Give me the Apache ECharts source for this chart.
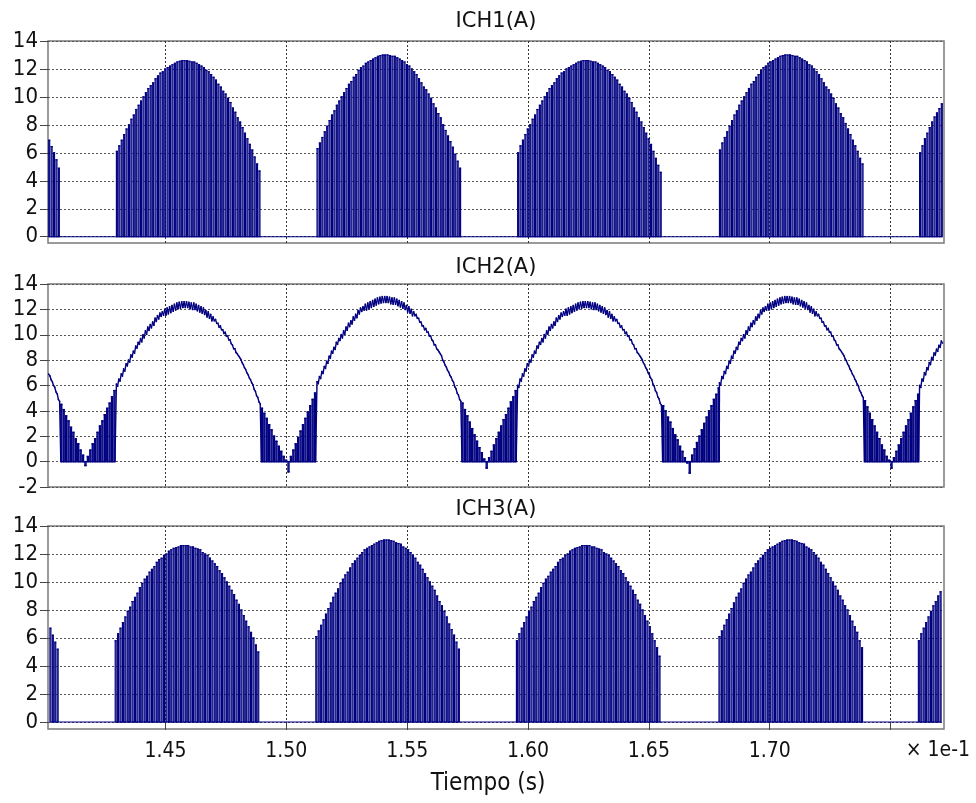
<!DOCTYPE html>
<html>
<head>
<meta charset="utf-8">
<script src="https://cdn.jsdelivr.net/npm/echarts@6/dist/echarts.min.js"></script>
<style>
html,body{margin:0;padding:0;background:#fff;}
#chart{width:976px;height:803px;}
</style>
</head>
<body>
<div id="chart"></div>
<script>
// ---- axis ticks (time in units of 1e-1 s) ----
const xTicks = [1.45, 1.50, 1.55, 1.60, 1.65, 1.70, 1.75];
const xTickLabels = [1.45, 1.50, 1.55, 1.60, 1.65, 1.70];
const yTicks = [0, 2, 4, 6, 8, 10, 12, 14];
const panelTitles = ['ICH1(A)', 'ICH2(A)', 'ICH3(A)'];

// ---- switching pattern ----
const PULSE_PERIOD = 0.001;   // 10 kHz switching (x1e-1 s)
const PULSE_ON = 0.0004;      // on-time of each pulse

// ---- ICH1: pulse heights per conduction interval ----
const ich1Starts = [1.4017, 1.4297, 1.5127, 1.5957, 1.6792, 1.7620];
const ich1Hump0 = [6.9, 6.45, 6.0, 5.5, 4.9];
const ich1Hump1 = [6.1,6.5,6.9,7.3,7.7,8.0,8.4,8.7,9.1,9.4,9.7,10.0,10.3,10.6,10.8,11.0,11.3,11.5,11.7,11.8,12.0,12.1,12.2,12.3,12.4,12.5,12.55,12.6,12.6,12.6,12.55,12.5,12.5,12.4,12.3,12.2,12.1,11.9,11.8,11.6,11.4,11.2,10.9,10.7,10.4,10.2,9.9,9.6,9.2,8.9,8.5,8.2,7.8,7.4,7.0,6.6,6.2,5.7,5.2,4.7];
const ich1Hump2 = [6.3,6.7,7.1,7.5,7.9,8.3,8.7,9.0,9.4,9.7,10.0,10.3,10.6,10.9,11.1,11.4,11.6,11.9,12.1,12.2,12.4,12.5,12.6,12.7,12.8,12.9,12.95,13.0,13.0,13.0,12.95,12.9,12.9,12.8,12.7,12.6,12.5,12.3,12.2,12.0,11.8,11.6,11.3,11.0,10.7,10.5,10.2,9.9,9.5,9.2,8.8,8.5,8.0,7.6,7.2,6.8,6.4,5.9,5.4,4.9];
const ich1Hump3 = [6.0,6.5,6.9,7.3,7.7,8.0,8.4,8.7,9.1,9.4,9.7,10.0,10.3,10.6,10.8,11.0,11.3,11.5,11.7,11.8,12.0,12.1,12.2,12.3,12.4,12.5,12.55,12.6,12.6,12.6,12.55,12.5,12.5,12.4,12.3,12.2,12.1,11.9,11.8,11.6,11.4,11.2,10.9,10.7,10.4,10.2,9.9,9.6,9.2,8.9,8.5,8.2,7.8,7.4,7.0,6.6,6.1,5.6,5.1,4.6];
const ich1Hump4 = [6.2,6.7,7.1,7.5,7.9,8.3,8.7,9.0,9.4,9.7,10.0,10.3,10.6,10.9,11.1,11.4,11.6,11.9,12.1,12.2,12.4,12.5,12.6,12.7,12.8,12.9,12.95,13.0,13.0,13.0,12.95,12.9,12.9,12.8,12.7,12.6,12.5,12.3,12.2,12.0,11.8,11.6,11.3,11.0,10.7,10.5,10.2,9.9,9.5,9.2,8.8,8.5,8.1,7.7,7.3,6.9,6.5,6.1,5.6,5.2];
const ich1Hump5 = [6.0, 6.5, 7.0, 7.4, 7.8, 8.2, 8.56, 8.85, 9.16, 9.5];

// ---- ICH2: valley pulse heights between conduction humps ----
const ich2ValleyStarts = [1.4067, 1.4897, 1.5727, 1.6557, 1.7392];
const ich2Valley1 = [4.5,4.1,3.6,3.2,2.7,2.3,1.8,1.4,0.9,0.5,-0.3,0.4,0.9,1.4,1.8,2.3,2.8,3.2,3.7,4.2,4.6,5.1,5.6];
const ich2Valley2 = [4.2,3.8,3.4,2.9,2.5,2.0,1.6,1.2,0.8,0.4,0.1,-0.8,0.4,0.9,1.4,1.9,2.4,2.9,3.4,3.9,4.4,4.9,5.4];
const ich2Valley3 = [4.6,4.1,3.6,3.1,2.6,2.1,1.6,1.1,0.7,0.2,-0.5,0.3,0.8,1.3,1.8,2.3,2.8,3.3,3.7,4.2,4.7,5.1,5.6];
const ich2Valley4 = [4.4,4.0,3.5,3.1,2.6,2.1,1.7,1.2,0.8,0.3,-0.1,-0.9,0.5,1.0,1.5,2.0,2.5,3.0,3.5,4.0,4.4,4.9,5.3,5.8];
const ich2Valley5 = [4.8,4.3,3.8,3.3,2.8,2.3,1.8,1.3,0.9,0.4,0.1,-0.5,0.3,0.8,1.3,1.8,2.3,2.8,3.3,3.8,4.3,4.8,5.3];
const ich2Ripple = [0.15, 0.25, 0.45, 0.5, 0.3, 0.15];  // ripple depth per group of 10 pulses

// ---- ICH3: pulse heights per conduction interval ----
const ich3Starts = [1.4022, 1.4292, 1.5122, 1.5952, 1.6790, 1.7615];
const ich3Hump0 = [6.7, 6.2, 5.7, 5.2];
const ich3Hump1 = [5.8,6.3,6.7,7.1,7.5,7.9,8.2,8.6,8.9,9.2,9.6,9.9,10.2,10.4,10.7,10.9,11.1,11.4,11.6,11.7,11.9,12.0,12.2,12.3,12.4,12.45,12.5,12.6,12.6,12.6,12.6,12.5,12.5,12.4,12.35,12.3,12.1,12.0,11.9,11.7,11.5,11.3,11.1,10.8,10.6,10.3,10.0,9.7,9.4,9.1,8.7,8.4,8.0,7.6,7.2,6.8,6.4,6.0,5.5,5.0];
const ich3Hump2 = [6.1,6.5,6.9,7.3,7.7,8.1,8.5,8.9,9.2,9.5,9.9,10.2,10.5,10.7,11.0,11.3,11.5,11.7,11.9,12.1,12.3,12.4,12.5,12.6,12.7,12.8,12.9,12.95,13.0,13.0,13.0,12.95,12.9,12.8,12.75,12.7,12.5,12.4,12.3,12.1,11.9,11.7,11.4,11.2,10.9,10.6,10.3,10.0,9.7,9.4,9.0,8.6,8.3,7.9,7.5,7.0,6.6,6.2,5.7,5.2];
const ich3Hump3 = [5.8,6.3,6.7,7.1,7.5,7.9,8.2,8.6,8.9,9.2,9.6,9.9,10.2,10.4,10.7,10.9,11.1,11.4,11.6,11.7,11.9,12.0,12.2,12.3,12.4,12.45,12.5,12.6,12.6,12.6,12.6,12.5,12.5,12.4,12.35,12.3,12.1,12.0,11.9,11.7,11.5,11.3,11.1,10.8,10.6,10.3,10.0,9.7,9.4,9.1,8.7,8.4,8.0,7.6,7.2,6.8,6.3,5.8,5.3,4.7];
const ich3Hump4 = [6.1,6.5,6.9,7.3,7.7,8.1,8.5,8.9,9.2,9.5,9.9,10.2,10.5,10.7,11.0,11.3,11.5,11.7,11.9,12.1,12.3,12.4,12.5,12.6,12.7,12.8,12.9,12.95,13.0,13.0,13.0,12.95,12.9,12.8,12.75,12.7,12.5,12.4,12.3,12.1,11.9,11.7,11.4,11.2,10.9,10.6,10.3,10.0,9.7,9.4,9.0,8.7,8.3,8.0,7.6,7.2,6.8,6.4,5.8,5.3];
const ich3Hump5 = [5.8, 6.3, 6.7, 7.1, 7.5, 7.9, 8.3, 8.6, 9.0, 9.3];

// ---- builders ----
function pulseTrain(start, heights) {
  const pts = [];
  heights.forEach((h, i) => {
    const t = start + i * PULSE_PERIOD;
    pts.push([t, 0], [t, h], [t + PULSE_ON, h], [t + PULSE_ON, 0]);
  });
  return pts;
}
function rippleTrace(start, heights) {
  const pts = [];
  heights.forEach((h, i) => {
    const t = start + i * PULSE_PERIOD;
    const r = ich2Ripple[Math.min(ich2Ripple.length - 1, Math.floor(i / 10))];
    pts.push([t, h], [t + PULSE_PERIOD / 2, h - r]);
  });
  return pts;
}
function toSegments(pts) {
  const segs = [];
  for (let i = 1; i < pts.length; i++) segs.push([pts[i - 1][0], pts[i - 1][1], pts[i][0], pts[i][1]]);
  return segs;
}

const ich1Humps = [ich1Hump0, ich1Hump1, ich1Hump2, ich1Hump3, ich1Hump4, ich1Hump5];
const ich3Humps = [ich3Hump0, ich3Hump1, ich3Hump2, ich3Hump3, ich3Hump4, ich3Hump5];
const ich2Valleys = [ich2Valley1, ich2Valley2, ich2Valley3, ich2Valley4, ich2Valley5];

let ich1Pts = [];
ich1Humps.forEach((h, k) => { ich1Pts = ich1Pts.concat(pulseTrain(ich1Starts[k], h)); });
let ich3Pts = [];
ich3Humps.forEach((h, k) => { ich3Pts = ich3Pts.concat(pulseTrain(ich3Starts[k], h)); });
let ich2Pts = [];
ich1Humps.forEach((h, k) => {
  ich2Pts = ich2Pts.concat(rippleTrace(ich1Starts[k], h));
  if (k < ich2Valleys.length) ich2Pts = ich2Pts.concat(pulseTrain(ich2ValleyStarts[k], ich2Valleys[k]));
});

// ---- chart ----
const FONT = "'DejaVu Sans Condensed', 'Liberation Sans', 'DejaVu Sans', sans-serif";
const TITLE_FONT = "'DejaVu Sans', 'Liberation Sans', sans-serif";
const X_MIN = 1.4014, X_MAX = 1.7721;
const grids = [
  { left: 48, top: 41, width: 896, height: 202 },
  { left: 48, top: 284, width: 896, height: 203 },
  { left: 48, top: 526, width: 896, height: 203 }
];
const yRanges = [[-0.45, 14], [-2, 14], [-0.5, 14]];
const gridLine = { show: true, lineStyle: { color: '#555', width: 1, type: [2, 2] } };

function segmentSeries(segs, idx, width) {
  return {
    type: 'custom', xAxisIndex: idx, yAxisIndex: idx, data: segs,
    encode: { x: [0, 2], y: [1, 3] },
    clip: true, progressive: 0, silent: true, animation: false,
    renderItem: function (params, api) {
      const p1 = api.coord([api.value(0), api.value(1)]);
      const p2 = api.coord([api.value(2), api.value(3)]);
      return {
        type: 'line', silent: true,
        shape: { x1: p1[0], y1: p1[1], x2: p2[0], y2: p2[1] },
        style: { stroke: '#000080', lineWidth: width, lineCap: 'square' }
      };
    }
  };
}

const chart = echarts.init(document.getElementById('chart'), null, { renderer: 'canvas' });
const option = {
  animation: false,
  backgroundColor: '#fff',
  textStyle: { fontFamily: FONT },
  grid: grids.map(g => Object.assign({ show: true, borderColor: '#7a7a7a', borderWidth: 1.5, backgroundColor: 'transparent' }, g)),
  xAxis: grids.map((g, i) => ({
    type: 'value', gridIndex: i, min: X_MIN, max: X_MAX,
    axisLine: { show: false },
    axisTick: { show: i === 2, customValues: xTicks, length: 8, inside: false, lineStyle: { color: '#444' } },
    axisLabel: {
      show: i === 2, customValues: xTickLabels, margin: 12,
      fontSize: 21, color: '#111', fontFamily: FONT,
      formatter: v => v.toFixed(2)
    },
    splitLine: { show: true, lineStyle: { color: '#333', width: 1, type: [2, 2] } }
  })),
  yAxis: grids.map((g, i) => {
    const ax = {
      type: 'value', gridIndex: i, min: yRanges[i][0], max: yRanges[i][1],
      axisLine: { show: false },
      axisTick: { show: true, length: 8, lineStyle: { color: '#444' } },
      axisLabel: { fontSize: 22, color: '#111', margin: 10, fontFamily: FONT },
      splitLine: gridLine
    };
    if (i === 1) { ax.interval = 2; }
    else {
      ax.axisTick.customValues = yTicks;
      ax.axisLabel.customValues = yTicks;
    }
    return ax;
  }),
  series: [
    segmentSeries(toSegments(ich1Pts), 0, 1.15),
    segmentSeries(toSegments(ich2Pts), 1, 1.4),
    segmentSeries(toSegments(ich3Pts), 2, 1.15)
  ],
  graphic: [
    { type: 'text', style: { x: 496, y: 22, text: panelTitles[0], fontSize: 21, fontFamily: TITLE_FONT, fill: '#111', textAlign: 'center', textVerticalAlign: 'middle' } },
    { type: 'text', style: { x: 496, y: 268, text: panelTitles[1], fontSize: 21, fontFamily: TITLE_FONT, fill: '#111', textAlign: 'center', textVerticalAlign: 'middle' } },
    { type: 'text', style: { x: 496, y: 510, text: panelTitles[2], fontSize: 21, fontFamily: TITLE_FONT, fill: '#111', textAlign: 'center', textVerticalAlign: 'middle' } },
    { type: 'text', style: { x: 970, y: 751, text: '× 1e-1', fontSize: 21, fontFamily: FONT, fill: '#111', textAlign: 'right', textVerticalAlign: 'middle' } },
    { type: 'text', style: { x: 488, y: 784, text: 'Tiempo (s)', fontSize: 24, fontFamily: FONT, fill: '#111', textAlign: 'center', textVerticalAlign: 'middle' } }
  ]
};
chart.setOption(option);
</script>
</body>
</html>
